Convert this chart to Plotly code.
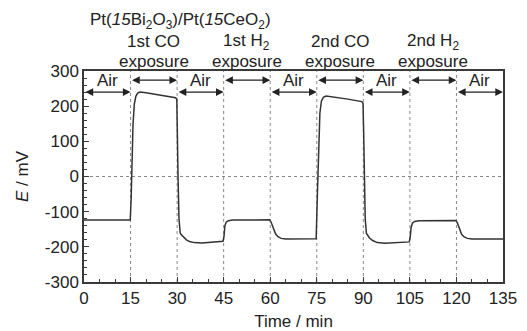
import plotly.graph_objects as go

# ---- data ----
time_min = [0, 14.9, 15.2, 15.5, 15.8, 16.2, 16.7, 17.3, 18, 20, 25, 29.5, 29.9, 30.1, 30.3, 30.6, 31.0, 31.3,
            32, 33, 34, 35.5, 38, 42, 44.8, 45.1, 45.4, 45.8, 46.5, 48, 52, 59.8, 60.3, 61, 61.7, 62.5, 63.5,
            65, 70, 74.8, 75.2, 75.6, 76, 76.5, 77.2, 78, 80, 85, 89.5, 89.9, 90.1, 90.3, 90.6, 91, 91.3, 92,
            93, 94.5, 97, 101, 104.8, 105.1, 105.4, 105.8, 106.5, 108, 112, 119.8, 120.3, 121, 121.7, 122.5,
            123.5, 125, 130, 135]
E_mV = [-124, -124, -60, 50, 150, 205, 228, 237, 240, 238, 231, 224, 220, 150, 0, -120, -160, -165,
        -172, -180, -185, -188, -189, -186, -184, -170, -140, -130, -126, -124, -123, -123, -130, -150, -163, -171, -176,
        -178, -178, -177, -50, 100, 180, 215, 226, 229, 227, 220, 213, 208, 130, 0, -120, -162, -167, -175,
        -182, -188, -190, -188, -186, -172, -145, -133, -128, -126, -125, -125, -132, -152, -165, -172,
        -176, -178, -178, -178]

boundaries = [15, 30, 45, 60, 75, 90, 105, 120]
air_segments = [(0, 15), (30, 45), (60, 75), (90, 105), (120, 135)]
exposure_segments = [(15, 30), (45, 60), (75, 90), (105, 120)]
exposure_line1 = ["1st CO", "1st H<sub>2</sub>", "2nd CO", "2nd H<sub>2</sub>"]
exposure_line2 = ["exposure", "exposure", "exposure", "exposure"]
x_ticks = [0, 15, 30, 45, 60, 75, 90, 105, 120, 135]
x_tick_labels = ["0", "15", "30", "45", "60", "75", "90", "105", "120", "135"]
y_ticks = [-300, -200, -100, 0, 100, 200, 300]
y_tick_labels = ["-300", "-200", "-100", "0", "100", "200", "300"]
title_text = "Pt(<i>15</i>Bi<sub>2</sub>O<sub>3</sub>)/Pt(<i>15</i>CeO<sub>2</sub>)"

FONT = "Liberation Sans, Arial, sans-serif"
TXT = "#222222"
AX = "#3a3a3a"

fig = go.Figure()
fig.add_trace(go.Scatter(x=time_min, y=E_mV, mode="lines",
                         line=dict(color="#333333", width=1.5), showlegend=False,
                         hoverinfo="skip"))

shapes = []
for b in boundaries:
    shapes.append(dict(type="line", xref="x", yref="y", x0=b, x1=b, y0=-300, y1=300,
                       line=dict(color="#888888", width=1, dash="dot"), layer="below"))
shapes.append(dict(type="line", xref="x", yref="y", x0=0, x1=135, y0=0, y1=0,
                   line=dict(color="#888888", width=1, dash="dot"), layer="below"))

annotations = []
arrow_common = dict(showarrow=True, text="", axref="x", ayref="y", xref="x", yref="y",
                    arrowhead=2, arrowsize=1.1, arrowwidth=1.4, arrowcolor="#222222",
                    arrowside="end+start", standoff=0, startstandoff=0)
for a, b in air_segments:
    annotations.append(dict(x=b, y=240, ax=a, ay=240, **arrow_common))
    annotations.append(dict(x=(a + b) / 2, y=274, xref="x", yref="y", text="Air",
                            showarrow=False, font=dict(family=FONT, size=17, color=TXT)))
for (a, b), l1, l2 in zip(exposure_segments, exposure_line1, exposure_line2):
    annotations.append(dict(x=b, y=274, ax=a, ay=274, **arrow_common))
    annotations.append(dict(x=(a + b) / 2, y=1.138, xref="x", yref="paper", text=l1,
                            showarrow=False, yanchor="middle",
                            font=dict(family=FONT, size=17, color=TXT)))
    annotations.append(dict(x=(a + b) / 2, y=1.046, xref="x", yref="paper", text=l2,
                            showarrow=False, yanchor="middle",
                            font=dict(family=FONT, size=17, color=TXT)))
annotations.append(dict(x=0.2315, y=1.235, xref="paper", yref="paper", text=title_text,
                        showarrow=False, xanchor="center", yanchor="middle",
                        font=dict(family=FONT, size=17, color=TXT)))

fig.update_layout(
    width=527, height=331,
    margin=dict(l=84, r=24, t=71, b=49),
    paper_bgcolor="white", plot_bgcolor="white",
    font=dict(family=FONT, size=17, color=TXT),
    shapes=shapes, annotations=annotations,
    xaxis=dict(range=[0, 135], tickvals=x_ticks, ticktext=x_tick_labels, ticks="inside",
               ticklen=5, tickwidth=1.3, automargin=False,
               tickcolor=AX, showline=True, linecolor=AX, linewidth=1.5, mirror=True,
               showgrid=False, zeroline=False,
               minor=dict(dtick=5, tick0=0, ticks="inside", ticklen=3, tickcolor=AX, tickwidth=1),
               title=dict(text="Time / min", standoff=8, font=dict(size=17)),
               tickfont=dict(size=17)),
    yaxis=dict(range=[-300, 300], tickvals=y_ticks, ticktext=y_tick_labels, ticks="inside",
               ticklen=5, tickwidth=1.3, automargin=False,
               tickcolor=AX, showline=True, linecolor=AX, linewidth=1.5, mirror=True,
               showgrid=False, zeroline=False,
               minor=dict(dtick=20, tick0=0, ticks="inside", ticklen=3, tickcolor=AX, tickwidth=1),
               title=dict(text="<i>E</i> / mV", standoff=12, font=dict(size=17)),
               tickfont=dict(size=17)),
)

fig.write_html("out.html", config={"displayModeBar": False},
               post_script="document.body.style.margin='0';document.body.style.padding='0';")
